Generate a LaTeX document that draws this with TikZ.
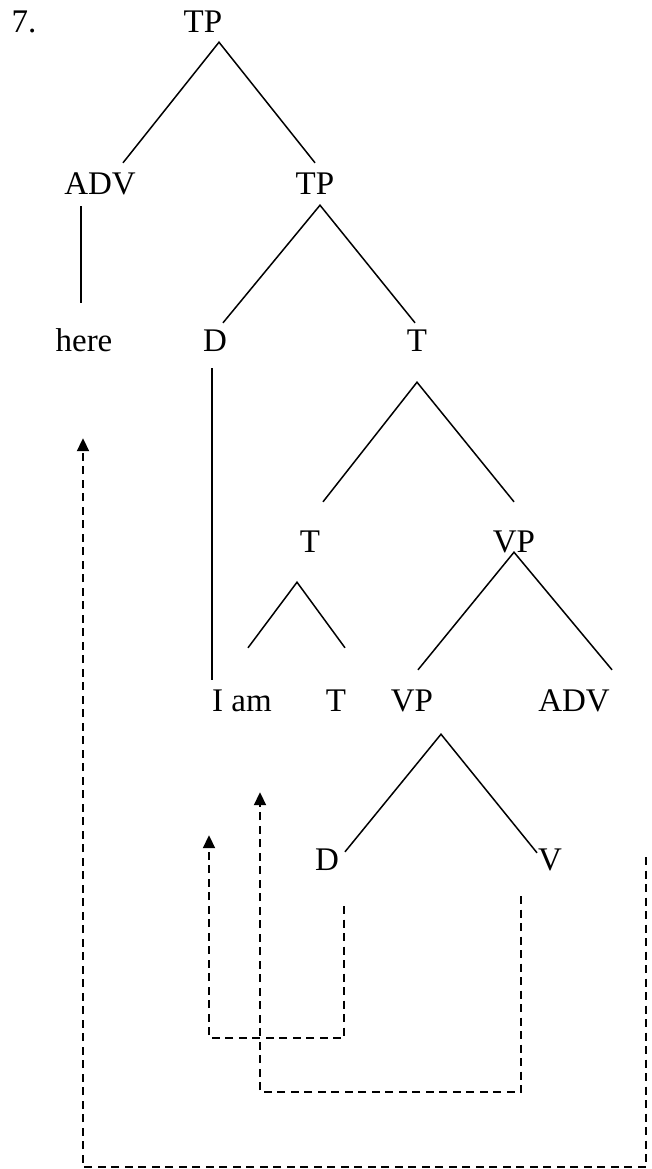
\documentclass[tikz,border=0pt]{standalone}
\usepackage{fontspec}
\setmainfont{Liberation Serif}
\usetikzlibrary{arrows.meta}
\tikzset{
  cat/.style      = {font=\fontsize{33pt}{36pt}\selectfont,inner xsep=0pt,inner ysep=9pt,
                     text height=22pt,text depth=0pt},
  branch/.style   = {line width=1.5pt},
  movearr/.style  = {-{Triangle[length=13pt,width=12pt]},line width=2pt,
                     dash pattern=on 8pt off 5.5pt}
}

\begin{document}
\begin{tikzpicture}[x=1pt,y=-1pt]
  \useasboundingbox (0,0) rectangle (651,1169);
  % labels
  \node[cat] (num)  at (24,22)   {7.};
  \node[cat] (tp1)  at (203,22)  {TP};
  \node[cat] (adv1) at (100,183) {ADV};
  \node[cat] (tp2)  at (315,183) {TP};
  \node[cat] (here) at (84,340)  {here};
  \node[cat] (d1)   at (215,340) {D};
  \node[cat] (t1)   at (417,340) {T};
  \node[cat] (t2)   at (310,541) {T};
  \node[cat] (vp1)  at (514,541) {VP};
  \node[cat] (iam)  at (242,700) {I am};
  \node[cat] (t3)   at (336,700) {T};
  \node[cat] (vp2)  at (412,700) {VP};
  \node[cat] (adv2) at (574,700) {ADV};
  \node[cat] (d2)   at (327,859) {D};
  \node[cat] (v)    at (550,859) {V};
  % branches
  \draw[branch] ([xshift=23pt]adv1.north) -- ([xshift=16pt]tp1.south) -- (tp2.north);
  \draw[branch] ([xshift=-19pt,yshift=-3pt]adv1.south) -- ([xshift=-3pt,yshift=17pt]here.north);
  \draw[branch] ([xshift=8pt,yshift=-3pt]d1.north) -- ([xshift=5pt,yshift=-2pt]tp2.south)
                -- ([xshift=-2pt,yshift=-3pt]t1.north);
  \draw[branch] ([xshift=-3pt,yshift=-8pt]d1.south) -- ([xshift=-30pt]iam.north);
  \draw[branch] ([xshift=13pt,yshift=19pt]t2.north) -- ([yshift=-22pt]t1.south)
                -- ([yshift=19pt]vp1.north);
  \draw[branch] ([xshift=6pt,yshift=32pt]iam.north) -- ([xshift=-13pt,yshift=-21pt]t2.south)
                -- ([xshift=9pt,yshift=32pt]t3.north);
  \draw[branch] ([xshift=6pt,yshift=10pt]vp2.north) -- ([yshift=9pt]vp1.south)
                -- ([xshift=38pt,yshift=10pt]adv2.north);
  \draw[branch] ([xshift=18pt,yshift=-13pt]d2.north) -- ([xshift=29pt,yshift=-14pt]vp2.south)
                -- ([xshift=-13pt,yshift=-14pt]v.north);
  % movement
  \draw[movearr] ([xshift=17pt,yshift=-27pt]d2.south) -- ++(0,132)
                 -| ([xshift=-33pt,yshift=-115pt]iam.south);
  \draw[movearr] ([xshift=-29pt,yshift=-17pt]v.south) -- ++(0,196)
                 -| ([xshift=18pt,yshift=-72pt]iam.south);
  \draw[movearr] ([xshift=96pt,yshift=2pt]v.center) -- ++(0,310)
                 -| ([xshift=-1pt,yshift=-78pt]here.south);
\end{tikzpicture}
\end{document}
